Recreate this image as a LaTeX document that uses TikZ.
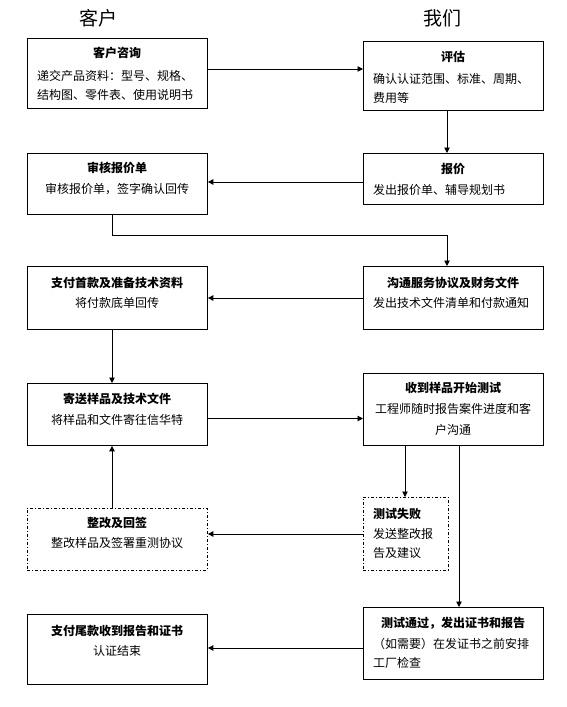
\documentclass[tikz,border=0pt]{standalone}
\usepackage{fontspec}
\setmainfont{Noto Sans CJK SC}
\usetikzlibrary{arrows.meta}
\tikzset{
  box/.style={draw, line width=0.9pt, inner sep=0pt, anchor=north west},
  dbox/.style={box, dash pattern=on 3pt off 2pt on 1pt off 2pt},
  conn/.style={line width=0.9pt, -{Triangle[length=5.5pt,width=5.5pt]}},
  plain/.style={line width=0.9pt},
  ttl/.style={inner sep=0pt, anchor=base, font=\fontsize{12}{14}\selectfont\bfseries},
  ttlw/.style={ttl, anchor=base west},
  bc/.style={inner sep=0pt, anchor=base, font=\fontsize{12}{14}\selectfont},
  bw/.style={bc, anchor=base west},
  hdr/.style={inner sep=0pt, anchor=base, font=\fontsize{19}{22}\selectfont}
}
\begin{document}
\begin{tikzpicture}[x=1pt,y=-1pt]
\useasboundingbox (0,0) rectangle (567,707);
% headers
\node[hdr] (h1) at (98,25) {客户};
\node[hdr] (h2) at (442,25) {我们};
% boxes
\node[box, minimum width=180pt, minimum height=70pt] (b1) at (27,38) {};
\node[box, minimum width=180pt, minimum height=69pt] (b2) at (363,41) {};
\node[box, minimum width=180pt, minimum height=61pt] (b3) at (27,153) {};
\node[box, minimum width=180pt, minimum height=51pt] (b4) at (363,153) {};
\node[box, minimum width=180pt, minimum height=63pt] (b5) at (27,266) {};
\node[box, minimum width=180pt, minimum height=63pt] (b6) at (363,266) {};
\node[box, minimum width=180pt, minimum height=62pt] (b7) at (27,383) {};
\node[box, minimum width=180pt, minimum height=72pt] (b8) at (363,373) {};
\node[dbox, minimum width=180pt, minimum height=62pt] (b9) at (27,508) {};
\node[dbox, minimum width=85pt, minimum height=73pt] (b10) at (363,497) {};
\node[box, minimum width=180pt, minimum height=72pt] (b11) at (363,607) {};
\node[box, minimum width=180pt, minimum height=70pt] (b12) at (27,614) {};
% texts
\node[ttl] (t1) at (117,57.5) {客户咨询};
\node[bw] (t1a) at (37,80.5) {递交产品资料：型号、规格、};
\node[bw] (t1b) at (37,99.5) {结构图、零件表、使用说明书};
\node[ttl] (t2) at (453,61.5) {评估};
\node[bw] (t2a) at (373,83.5) {确认认证范围、标准、周期、};
\node[bw] (t2b) at (373,102.5) {费用等};
\node[ttl] (t3) at (117,172.5) {审核报价单};
\node[bc] (t3a) at (117,193.5) {审核报价单，签字确认回传};
\node[ttl] (t4) at (453,173.5) {报价};
\node[bw] (t4a) at (373,194.5) {发出报价单、辅导规划书};
\node[ttl] (t5) at (117,287.5) {支付首款及准备技术资料};
\node[bc] (t5a) at (117,307.5) {将付款底单回传};
\node[ttl] (t6) at (453,287.5) {沟通服务协议及财务文件};
\node[bw] (t6a) at (373,307.5) {发出技术文件清单和付款通知};
\node[ttl] (t7) at (117,403.5) {寄送样品及技术文件};
\node[bc] (t7a) at (117,424.5) {将样品和文件寄往信华特};
\node[ttl] (t8) at (453,392.5) {收到样品开始测试};
\node[bc] (t8a) at (453,413.5) {工程师随时报告案件进度和客};
\node[bc] (t8b) at (453,434.5) {户沟通};
\node[ttl] (t9) at (117,527.5) {整改及回签};
\node[bc] (t9a) at (117,547.5) {整改样品及签署重测协议};
\node[ttlw] (t10) at (373,518.5) {测试失败};
\node[bw] (t10a) at (373,538.5) {发送整改报};
\node[bw] (t10b) at (373,557.5) {告及建议};
\node[ttl] (t11) at (453,627.5) {测试通过，发出证书和报告};
\node[bw] (t11a) at (373,648.5) {（如需要）在发证书之前安排};
\node[bw] (t11b) at (373,667.5) {工厂检查};
\node[ttl] (t12) at (117,635.5) {支付尾款收到报告和证书};
\node[bc] (t12a) at (117,655.5) {认证结束};
% connectors
\draw[conn] (b1.east |- 0,69) -- (b2.west |- 0,69);
\draw[conn] (b2.south -| 447,0) -- (b4.north -| 447,0);
\draw[conn] (b4.west |- 0,182) -- (b3.east |- 0,182);
\coordinate (k1) at (112,235);
\coordinate (k2) at (447,235);
\draw[conn] (b3.south -| k1) -- (k1) -- (k2) -- (b6.north -| k2);
\draw[conn] (b6.west |- 0,298) -- (b5.east |- 0,298);
\draw[conn] (b5.south -| k1) -- (b7.north -| k1);
\draw[conn] (b7.east |- 0,418.5) -- (b8.west |- 0,418.5);
\draw[conn] (b8.south -| 405,0) -- (b10.north -| 405,0);
\draw[conn] (b10.west |- 0,534) -- (b9.east |- 0,534);
\draw[conn] (b9.north -| k1) -- (b7.south -| k1);
\draw[conn] (b8.south -| 459,0) -- (b11.north -| 459,0);
\draw[conn] (b11.west |- 0,648) -- (b12.east |- 0,648);
\end{tikzpicture}
\end{document}
